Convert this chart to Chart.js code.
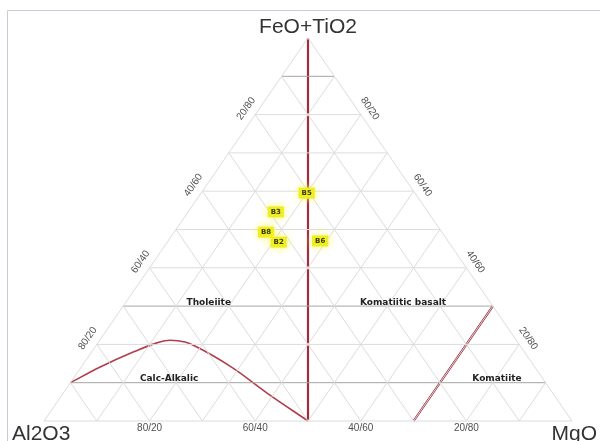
<!DOCTYPE html>
<html>
<head>
<meta charset="utf-8">
<script src="https://cdn.jsdelivr.net/npm/chart.js@4"></script>
<style>
  html, body { margin: 0; padding: 0; background: #ffffff; }
  #wrap { width: 600px; height: 441px; position: relative; }
</style>
</head>
<body>
<div id="wrap"><canvas id="c" width="600" height="441"></canvas></div>
<script>
// Sample compositions (%), Jensen cation ternary: Al2O3 / FeO+TiO2 / MgO
const sampleNames = ['B5', 'B3', 'B8', 'B2', 'B6'];
const al2o3   = [20.5, 28.8, 33.3, 32.2, 24.2];
const feoTio2 = [59.5, 54.6, 49.3, 46.7, 47.0];
const mgo     = [20.0, 16.6, 17.4, 21.1, 28.8];

// Calc-alkalic boundary curve (%)
const calcAlkAl = [90, 82.3, 74.1, 68.4, 65.6, 63.0, 61.4, 57.3, 54.1, 50];
const calcAlkFe = [10, 14.1, 18.0, 20.4, 21.1, 20.6, 19.3, 13.8, 7.3, 0];
const calcAlkMg = [0, 3.6, 7.9, 11.2, 13.3, 16.4, 19.3, 28.9, 38.6, 50];

// Grid steps and axis tick values (%)
const gridSteps = [10, 20, 30, 40, 50, 60, 70, 80, 90];
const tickValues = [20, 40, 60, 80];
const emphasisLevels = [10, 30, 90]; // FeO+TiO2 levels drawn darker

// Apex names
const apexNames = { left: 'Al2O3', top: 'FeO+TiO2', right: 'MgO' };

// Field names with their ternary anchor (Al2O3, FeO+TiO2, MgO)
const fieldNames = ['Tholeiite', 'Komatiitic basalt', 'Calc-Alkalic', 'Komatiite'];
const fieldAl = [53.4, 16.6, 70.8, 8.7];
const fieldFe = [30.8, 30.8, 11.0, 11.0];
const fieldMg = [15.8, 52.6, 18.2, 80.3];

// ternary (a, f, m) in % -> cartesian for the linear scales
function tern(a, f, m) {
  const s = a + f + m;
  a /= s; f /= s; m /= s;
  return { x: m + f / 2, y: f };
}
const GAP = { x: 0, y: null };

// Grid lines
const lightGrid = [];
const darkGrid = [];
gridSteps.forEach(k => {
  const h = [tern(100 - k, k, 0), tern(0, k, 100 - k), GAP];
  if (emphasisLevels.includes(k)) darkGrid.push(...h); else lightGrid.push(...h);
  lightGrid.push(tern(100 - k, 0, k), tern(0, 100 - k, k), GAP);
  lightGrid.push(tern(k, 0, 100 - k), tern(k, 100 - k, 0), GAP);
});
// outline
lightGrid.push(tern(100, 0, 0), tern(0, 100, 0), tern(0, 0, 100), tern(100, 0, 0));

// Straight field boundaries
const redLines = [
  tern(0, 100, 0), tern(50, 0, 50), GAP,
  tern(30, 0, 70), tern(0, 30, 70)
];
const calcCurve = calcAlkAl.map((a, i) => tern(a, calcAlkFe[i], calcAlkMg[i]));
const samples = al2o3.map((a, i) => tern(a, feoTio2[i], mgo[i]));

const EDGE_ANGLE = Math.atan2(383, 264); // slope of triangle sides on screen

const decorPlugin = {
  id: 'decor',
  beforeDraw(chart) {
    const ctx = chart.ctx;
    ctx.save();
    ctx.fillStyle = '#ffffff';
    ctx.fillRect(0, 0, chart.width, chart.height);
    ctx.strokeStyle = '#c9ccd6';
    ctx.lineWidth = 1;
    ctx.beginPath();
    ctx.moveTo(7.5, 441);
    ctx.lineTo(7.5, 10.5);
    ctx.lineTo(600, 10.5);
    ctx.stroke();
    ctx.restore();
  },
  afterDatasetsDraw(chart) {
    const ctx = chart.ctx;
    const xs = chart.scales.x, ys = chart.scales.y;
    const px = p => ({ x: xs.getPixelForValue(p.x), y: ys.getPixelForValue(p.y) });
    ctx.save();

    // tick labels
    ctx.fillStyle = '#505050';
    ctx.font = '10px "Liberation Sans", Arial, sans-serif';
    ctx.textAlign = 'center';
    ctx.textBaseline = 'middle';
    tickValues.forEach(v => {
      // left edge (Al2O3 / FeO+TiO2)
      let p = px(tern(100 - v, v, 0));
      ctx.save();
      ctx.translate(p.x - 9, p.y - 6);
      ctx.rotate(-EDGE_ANGLE);
      ctx.fillText((100 - v) + '/' + v, 0, 0);
      ctx.restore();
      // right edge (FeO+TiO2 / MgO)
      p = px(tern(0, v, 100 - v));
      ctx.save();
      ctx.translate(p.x + 9, p.y - 6);
      ctx.rotate(EDGE_ANGLE);
      ctx.fillText(v + '/' + (100 - v), 0, 0);
      ctx.restore();
      // base (Al2O3 / MgO)
      p = px(tern(100 - v, 0, v));
      ctx.fillText((100 - v) + '/' + v, p.x, p.y + 7);
    });

    // apex names
    ctx.fillStyle = '#333333';
    ctx.font = '21px "Liberation Sans", Arial, sans-serif';
    ctx.textBaseline = 'alphabetic';
    const top = px(tern(0, 100, 0));
    ctx.textAlign = 'center';
    ctx.fillText(apexNames.top, top.x, top.y - 5);
    ctx.textAlign = 'left';
    ctx.fillText(apexNames.left, 12, 440);
    ctx.textAlign = 'right';
    ctx.fillText(apexNames.right, 597, 440);

    // field names
    ctx.fillStyle = '#222222';
    ctx.font = 'bold 9px "DejaVu Sans", sans-serif';
    ctx.textAlign = 'center';
    ctx.textBaseline = 'middle';
    fieldNames.forEach((n, i) => {
      const p = px(tern(fieldAl[i], fieldFe[i], fieldMg[i]));
      ctx.fillText(n, p.x, p.y);
    });

    // sample labels on yellow tags
    const meta = chart.getDatasetMeta(4);
    ctx.font = 'bold 7px "DejaVu Sans", sans-serif';
    meta.data.forEach((el, i) => {
      const w = ctx.measureText(sampleNames[i]).width + 6;
      const h = 11;
      ctx.save();
      ctx.shadowColor = 'rgba(250,250,90,0.95)';
      ctx.shadowBlur = 7;
      ctx.fillStyle = '#eeee22';
      ctx.fillRect(el.x - w / 2, el.y - h / 2, w, h);
      ctx.restore();
      ctx.fillStyle = '#3a3a10';
      ctx.fillText(sampleNames[i], el.x, el.y + 0.5);
    });
    ctx.restore();
  }
};

new Chart(document.getElementById('c'), {
  type: 'scatter',
  data: {
    datasets: [
      { data: lightGrid, showLine: true, borderColor: '#dcdcdc', borderWidth: 1, pointRadius: 0, spanGaps: false },
      { data: darkGrid, showLine: true, borderColor: '#a6a6a6', borderWidth: 1, pointRadius: 0, spanGaps: false },
      { data: redLines, showLine: true, borderColor: '#a02c3c', borderWidth: 2.2, pointRadius: 0, spanGaps: false },
      { data: calcCurve, showLine: true, borderColor: '#b03e4e', borderWidth: 1.6, pointRadius: 0, cubicInterpolationMode: 'monotone' },
      { label: 'Samples', data: samples, showLine: false, pointRadius: 0 }
    ]
  },
  options: {
    responsive: false,
    animation: false,
    layout: { padding: 0 },
    plugins: { legend: { display: false }, tooltip: { enabled: false } },
    scales: {
      x: { type: 'linear', display: false, min: -44 / 528, max: 556 / 528 },
      y: { type: 'linear', display: false, min: -20 / 383, max: 421 / 383 }
    }
  },
  plugins: [decorPlugin]
});
</script>
</body>
</html>
